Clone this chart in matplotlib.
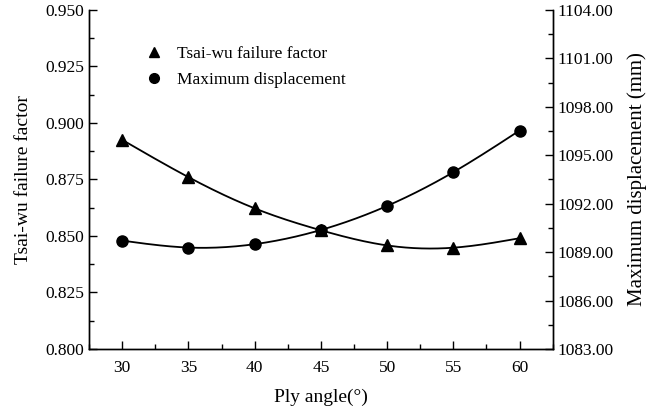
import numpy as np
import matplotlib
matplotlib.use("Agg")
import matplotlib.pyplot as plt
from matplotlib.ticker import MultipleLocator, FormatStrFormatter
from matplotlib.lines import Line2D

# 数据
ply_angle = [30, 35, 40, 45, 50, 55, 60]
tsai_wu = [0.8925, 0.8760, 0.8622, 0.8525, 0.8458, 0.8448, 0.8490]
max_disp = [1089.71, 1089.28, 1089.49, 1090.37, 1091.86, 1093.95, 1096.53]


def natural_spline(x, y, n=200):
    """自然三次样条，画平滑曲线"""
    x = np.asarray(x, float)
    y = np.asarray(y, float)
    k = len(x)
    h = np.diff(x)
    A = np.zeros((k, k))
    b = np.zeros(k)
    A[0, 0] = A[-1, -1] = 1
    for i in range(1, k - 1):
        A[i, i - 1] = h[i - 1]
        A[i, i] = 2 * (h[i - 1] + h[i])
        A[i, i + 1] = h[i]
        b[i] = 6 * ((y[i + 1] - y[i]) / h[i] - (y[i] - y[i - 1]) / h[i - 1])
    m = np.linalg.solve(A, b)
    xs = np.linspace(x[0], x[-1], n)
    ys = np.empty_like(xs)
    for j, xv in enumerate(xs):
        i = min(np.searchsorted(x, xv, side="right") - 1, k - 2)
        t1 = x[i + 1] - xv
        t0 = xv - x[i]
        ys[j] = (m[i] * t1 ** 3 / (6 * h[i]) + m[i + 1] * t0 ** 3 / (6 * h[i])
                 + (y[i] / h[i] - m[i] * h[i] / 6) * t1
                 + (y[i + 1] / h[i] - m[i + 1] * h[i] / 6) * t0)
    return xs, ys


plt.rcParams['font.family'] = ['Liberation Serif', 'DejaVu Serif']
plt.rcParams['font.size'] = 12

fig = plt.figure(figsize=(6.46, 4.12), dpi=100)
ax = fig.add_axes([0.138, 0.153, 0.7176, 0.823])
ax2 = ax.twinx()

xs, ys = natural_spline(ply_angle, tsai_wu)
ax.plot(xs, ys, color='black', lw=1.3)
ax.plot(ply_angle, tsai_wu, '^', color='black', ms=8.5, lw=0)

xs, ys = natural_spline(ply_angle, max_disp)
ax2.plot(xs, ys, color='black', lw=1.3)
ax2.plot(ply_angle, max_disp, 'o', color='black', ms=8, lw=0)

ax.set_xlim(27.5, 62.5)
ax.set_ylim(0.800, 0.950)
ax2.set_ylim(1083, 1104)

ax.xaxis.set_major_locator(MultipleLocator(5))
ax.xaxis.set_minor_locator(MultipleLocator(2.5))
ax.yaxis.set_major_locator(MultipleLocator(0.025))
ax.yaxis.set_minor_locator(MultipleLocator(0.0125))
ax.yaxis.set_major_formatter(FormatStrFormatter('%.3f'))
ax2.yaxis.set_major_locator(MultipleLocator(3))
ax2.yaxis.set_minor_locator(MultipleLocator(1.5))
ax2.yaxis.set_major_formatter(FormatStrFormatter('%.2f'))

for a in (ax, ax2):
    a.spines['top'].set_visible(False)
    for s in a.spines.values():
        s.set_linewidth(1.0)
    a.tick_params(which='major', direction='in', length=6, width=1.0, labelsize=12.5)
    a.tick_params(which='minor', direction='in', length=3.5, width=1.0)
ax.tick_params(axis='x', pad=8)

ax.set_xlabel('Ply angle(°)', fontsize=14, labelpad=9)
ax.set_ylabel('Tsai-wu failure factor', fontsize=14, labelpad=10)
ax2.set_ylabel('Maximum displacement (mm)', fontsize=15, labelpad=10)

handles = [Line2D([], [], marker='^', color='black', ls='none', ms=7),
           Line2D([], [], marker='o', color='black', ls='none', ms=7)]
ax.legend(handles, ['Tsai-wu failure factor', 'Maximum displacement'],
          loc='upper left', bbox_to_anchor=(0.078, 0.94), frameon=False,
          fontsize=12.5, handletextpad=0.6, labelspacing=0.55, handlelength=1.5)

fig.savefig('out.png', dpi=100)
